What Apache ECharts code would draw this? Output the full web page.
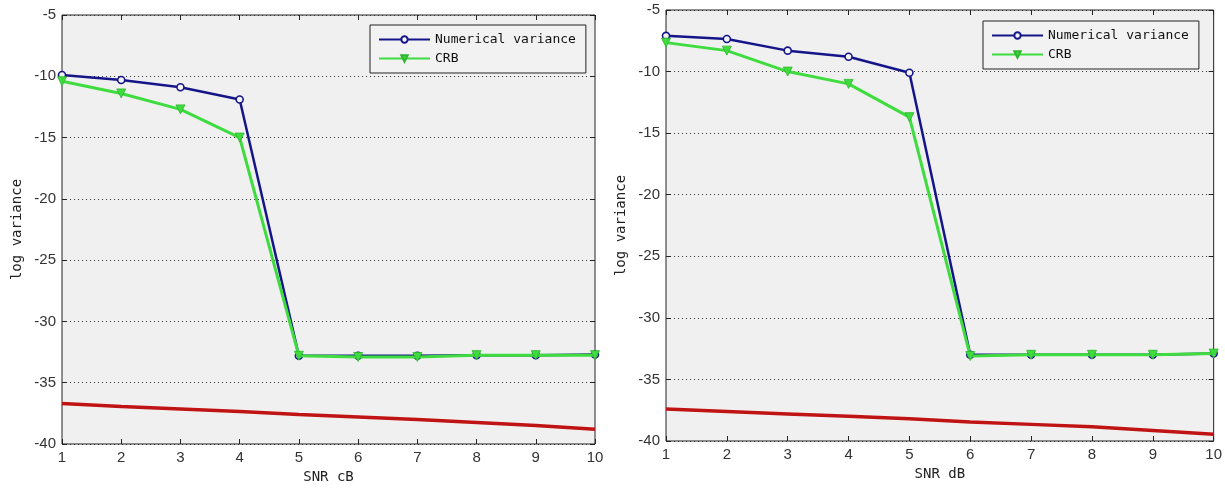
<!DOCTYPE html>
<html>
<head>
<meta charset="utf-8">
<script src="https://cdn.jsdelivr.net/npm/echarts@6/dist/echarts.min.js"></script>
<style>
html,body{margin:0;padding:0;background:#fff;}
#c{width:1225px;height:489px;}
</style>
</head>
<body>
<div id="c"></div>
<script>
// ---- data ----
var snr = [1, 2, 3, 4, 5, 6, 7, 8, 9, 10];
var yTicks = [-40, -35, -30, -25, -20, -15, -10, -5];

// left plot (SNR cB)
var leftNumVar = [-9.9, -10.3, -10.9, -11.9, -32.8, -32.8, -32.8, -32.75, -32.75, -32.7];
var leftCRB    = [-10.4, -11.4, -12.7, -15.0, -32.8, -32.9, -32.9, -32.75, -32.75, -32.75];
var leftRed    = [-36.7, -36.95, -37.15, -37.35, -37.6, -37.8, -38.0, -38.25, -38.5, -38.8];

// right plot (SNR dB)
var rightNumVar = [-7.1, -7.35, -8.3, -8.8, -10.1, -33.0, -33.0, -33.0, -33.0, -32.9];
var rightCRB    = [-7.65, -8.3, -10.0, -11.0, -13.7, -33.1, -33.0, -33.0, -33.0, -32.9];
var rightRed    = [-37.4, -37.6, -37.8, -38.0, -38.2, -38.45, -38.65, -38.85, -39.15, -39.45];

var xNames = ['SNR cB', 'SNR dB'];
var yName = 'log variance';
var seriesNames = ['Numerical variance', 'CRB'];

function pairs(xs, ys) { return xs.map(function (x, i) { return [x, ys[i]]; }); }

var BLUE = '#15158a';
var GREEN = '#3fdc3f';
var RED = '#c01414';
var tickFont = { fontFamily: 'Liberation Sans', fontSize: 15, color: '#333' };
var monoFont = { fontFamily: 'DejaVu Sans Mono', fontSize: 14, color: '#222' };

var grids = [
  { left: 62, top: 15, width: 533, height: 430 },
  { left: 666, top: 10, width: 549, height: 431 }
];

var xAxes = [], yAxes = [];
grids.forEach(function (g, gi) {
  g.show = true;
  g.backgroundColor = '#f0f0f0';
  g.borderColor = '#222';
  g.borderWidth = 1;
  xAxes.push({
    type: 'value', gridIndex: gi, min: snr[0], max: snr[snr.length - 1], interval: 1,
    name: xNames[gi], nameLocation: 'middle', nameGap: 26, nameTextStyle: monoFont,
    axisLine: { show: false },
    axisTick: { show: true, inside: true, length: 5, lineStyle: { color: '#222' } },
    axisLabel: Object.assign({ margin: 6 }, tickFont),
    splitLine: { show: false }
  });
  xAxes.push({
    type: 'value', gridIndex: gi, position: 'top', min: snr[0], max: snr[snr.length - 1], interval: 1,
    axisLine: { show: false },
    axisTick: { show: true, inside: true, length: 5, lineStyle: { color: '#222' } },
    axisLabel: { show: false }, splitLine: { show: false }
  });
  yAxes.push({
    type: 'value', gridIndex: gi, min: yTicks[0], max: yTicks[yTicks.length - 1], interval: 5,
    name: yName, nameLocation: 'middle', nameGap: 38, nameTextStyle: monoFont,
    axisLine: { show: false },
    axisTick: { show: true, inside: true, length: 5, lineStyle: { color: '#222' } },
    axisLabel: Object.assign({ margin: 6 }, tickFont),
    splitLine: { show: true, lineStyle: { type: [1, 3], color: '#333', width: 1 } }
  });
  yAxes.push({
    type: 'value', gridIndex: gi, position: 'right', min: yTicks[0], max: yTicks[yTicks.length - 1], interval: 5,
    axisLine: { show: false },
    axisTick: { show: true, inside: true, length: 5, lineStyle: { color: '#222' } },
    axisLabel: { show: false }, splitLine: { show: false }
  });
});

function numSeries(gi, data) {
  return {
    name: seriesNames[0], type: 'line', xAxisIndex: gi * 2, yAxisIndex: gi * 2,
    data: pairs(snr, data), clip: false,
    symbol: 'circle', symbolSize: 7, showAllSymbol: true,
    lineStyle: { color: BLUE, width: 2.5 },
    itemStyle: { color: '#f4f4f4', borderColor: BLUE, borderWidth: 1.6 },
    emphasis: { disabled: true }, z: 3, animation: false
  };
}
function crbSeries(gi, data) {
  return {
    name: seriesNames[1], type: 'line', xAxisIndex: gi * 2, yAxisIndex: gi * 2,
    data: pairs(snr, data), clip: false,
    symbol: 'triangle', symbolRotate: 180, symbolSize: 9,
    lineStyle: { color: GREEN, width: 3 },
    itemStyle: { color: GREEN, borderColor: '#2fb52f', borderWidth: 0.8 },
    emphasis: { disabled: true }, z: 4, animation: false
  };
}
function redSeries(gi, data) {
  return {
    name: 'bound', type: 'line', xAxisIndex: gi * 2, yAxisIndex: gi * 2,
    data: pairs(snr, data), symbol: 'none',
    lineStyle: { color: RED, width: 3.5 },
    emphasis: { disabled: true }, z: 2, animation: false
  };
}

var legendBase = {
  orient: 'vertical', data: seriesNames,
  itemWidth: 51, itemHeight: 8, itemGap: 6,
  padding: [8, 10, 8, 8],
  borderColor: '#222', borderWidth: 1, backgroundColor: '#f2f2f2',
  textStyle: { fontFamily: 'DejaVu Sans Mono', fontSize: 13, color: '#111' },
  selectedMode: false
};

var option = {
  animation: false,
  backgroundColor: '#ffffff',
  grid: grids,
  xAxis: xAxes,
  yAxis: yAxes,
  legend: [
    Object.assign({}, legendBase, { left: 370, top: 25 }),
    Object.assign({}, legendBase, { left: 983, top: 21 })
  ],
  series: [
    redSeries(0, leftRed), numSeries(0, leftNumVar), crbSeries(0, leftCRB),
    redSeries(1, rightRed), numSeries(1, rightNumVar), crbSeries(1, rightCRB)
  ]
};

var chart = echarts.init(document.getElementById('c'), null, { renderer: 'canvas' });
chart.setOption(option);
</script>
</body>
</html>
